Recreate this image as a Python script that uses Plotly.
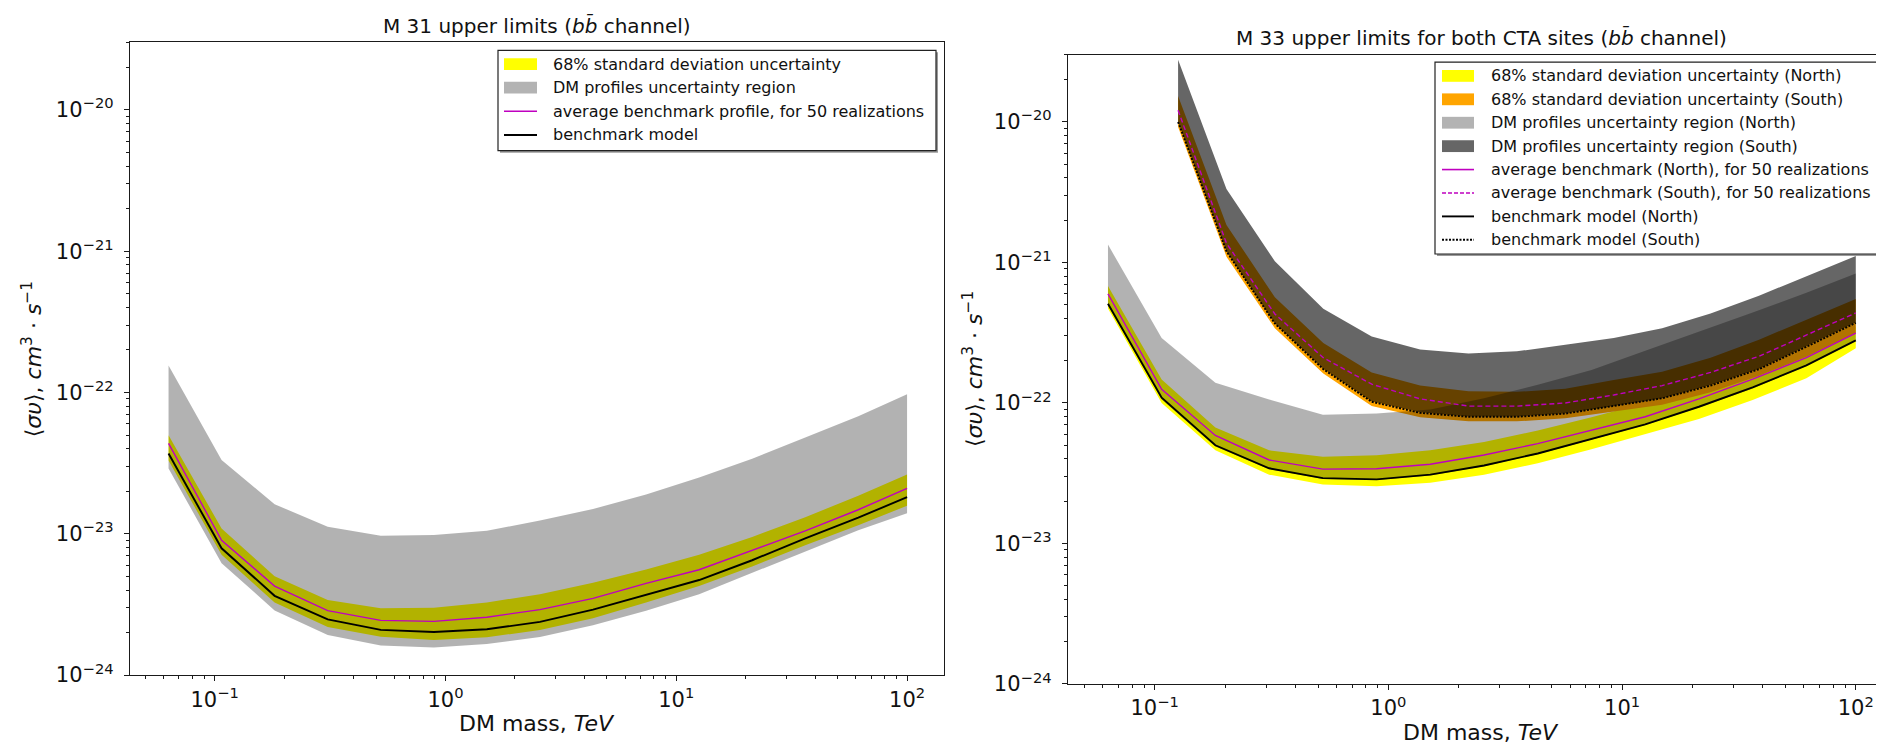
import plotly.graph_objects as go

# ---------------- data ----------------
mass = [0.0631, 0.1071, 0.1818, 0.3088, 0.5243, 0.8902, 1.511, 2.566, 4.357, 7.397,
        12.56, 21.32, 36.2, 61.46, 100.0]
mass_south = [0.1259, 0.2028, 0.3267, 0.5265, 0.8484, 1.367, 2.202, 3.548, 5.716, 9.21,
              14.84, 23.91, 38.53, 62.09, 100.0]

# M 31 (left panel)
m31_dm_upper = [1.55e-22, 3.33e-23, 1.62e-23, 1.12e-23, 9.7e-24, 9.8e-24, 1.05e-23, 1.24e-23,
                1.5e-23, 1.9e-23, 2.5e-23, 3.4e-23, 4.8e-23, 6.8e-23, 9.7e-23]
m31_dm_lower = [2.9e-23, 6.2e-24, 2.87e-24, 1.92e-24, 1.62e-24, 1.57e-24, 1.66e-24, 1.86e-24,
                2.25e-24, 2.86e-24, 3.74e-24, 5.28e-24, 7.5e-24, 1.06e-23, 1.4e-23]
m31_std_upper = [4.98e-23, 1.09e-23, 5.0e-24, 3.4e-24, 2.97e-24, 3.0e-24, 3.27e-24, 3.74e-24,
                 4.5e-24, 5.58e-24, 7.1e-24, 9.5e-24, 1.31e-23, 1.86e-23, 2.63e-23]
m31_std_lower = [3.3e-23, 7.1e-24, 3.27e-24, 2.19e-24, 1.87e-24, 1.77e-24, 1.85e-24, 2.09e-24,
                 2.53e-24, 3.27e-24, 4.27e-24, 5.88e-24, 8.3e-24, 1.15e-23, 1.58e-23]
m31_average = [4.37e-23, 9.0e-24, 4.27e-24, 2.86e-24, 2.44e-24, 2.4e-24, 2.57e-24, 2.91e-24,
               3.49e-24, 4.46e-24, 5.57e-24, 7.6e-24, 1.05e-23, 1.48e-23, 2.1e-23]
m31_benchmark = [3.7e-23, 7.9e-24, 3.64e-24, 2.48e-24, 2.09e-24, 2.02e-24, 2.11e-24, 2.38e-24,
                 2.91e-24, 3.68e-24, 4.71e-24, 6.5e-24, 9.3e-24, 1.3e-23, 1.82e-23]

# M 33 North (right panel)
north_dm_upper = [1.34e-21, 2.9e-22, 1.39e-22, 1.06e-22, 8.24e-23, 8.4e-23, 9.0e-23, 1.08e-22,
                  1.35e-22, 1.72e-22, 2.35e-22, 3.2e-22, 4.4e-22, 6.1e-22, 8.34e-22]
north_dm_lower = [4.95e-22, 1.06e-22, 4.9e-23, 3.38e-23, 2.88e-23, 2.83e-23, 3.05e-23, 3.55e-23,
                  4.32e-23, 5.5e-23, 6.97e-23, 9.3e-23, 1.27e-22, 1.83e-22, 2.76e-22]
north_std_upper = [6.8e-22, 1.47e-22, 6.7e-23, 4.6e-23, 4.14e-23, 4.25e-23, 4.6e-23, 5.27e-23,
                   6.37e-23, 7.9e-23, 1.0e-22, 1.31e-22, 1.76e-22, 2.5e-22, 3.5e-22]
north_std_lower = [4.7e-22, 1.0e-22, 4.6e-23, 3.09e-23, 2.63e-23, 2.55e-23, 2.7e-23, 3.09e-23,
                   3.72e-23, 4.69e-23, 6.0e-23, 7.7e-23, 1.05e-22, 1.5e-22, 2.45e-22]
north_average = [5.97e-22, 1.25e-22, 5.87e-23, 3.93e-23, 3.38e-23, 3.4e-23, 3.66e-23, 4.26e-23,
                 5.14e-23, 6.37e-23, 7.98e-23, 1.07e-22, 1.48e-22, 2.1e-22, 3.14e-22]
north_benchmark = [5.08e-22, 1.09e-22, 5.0e-23, 3.43e-23, 2.92e-23, 2.86e-23, 3.09e-23, 3.59e-23,
                   4.37e-23, 5.57e-23, 7.05e-23, 9.4e-23, 1.29e-22, 1.85e-22, 2.79e-22]

# M 33 South (right panel)
south_dm_upper = [2.77e-20, 3.33e-21, 1.02e-21, 4.69e-22, 2.97e-22, 2.4e-22, 2.25e-22, 2.33e-22,
                  2.6e-22, 2.9e-22, 3.4e-22, 4.33e-22, 5.8e-22, 8.0e-22, 1.11e-21]
south_dm_lower = [1.0e-20, 1.2e-21, 3.7e-22, 1.75e-22, 1.03e-22, 8.6e-23, 8.0e-23, 8.0e-23,
                  8.45e-23, 9.5e-23, 1.08e-22, 1.34e-22, 1.75e-22, 2.55e-22, 3.75e-22]
south_std_upper = [1.53e-20, 1.85e-21, 5.66e-22, 2.67e-22, 1.65e-22, 1.33e-22, 1.21e-22, 1.2e-22,
                   1.26e-22, 1.46e-22, 1.67e-22, 2.1e-22, 2.82e-22, 3.93e-22, 5.5e-22]
south_std_lower = [9.2e-21, 1.1e-21, 3.4e-22, 1.62e-22, 9.5e-23, 7.9e-23, 7.4e-23, 7.4e-23,
                   7.8e-23, 8.75e-23, 9.7e-23, 1.19e-22, 1.56e-22, 2.15e-22, 3.14e-22]
south_average = [1.21e-20, 1.37e-21, 4.3e-22, 2.1e-22, 1.36e-22, 1.07e-22, 9.5e-23, 9.5e-23,
                 1.0e-22, 1.14e-22, 1.33e-22, 1.65e-22, 2.15e-22, 3.05e-22, 4.37e-22]
south_benchmark = [1.0e-20, 1.2e-21, 3.68e-22, 1.74e-22, 1.02e-22, 8.5e-23, 7.97e-23, 7.97e-23,
                   8.4e-23, 9.5e-23, 1.08e-22, 1.33e-22, 1.74e-22, 2.53e-22, 3.72e-22]

x_tick_vals = [0.1, 1, 10, 100]
x_tick_text = ["10<sup>−1</sup>", "10<sup>0</sup>", "10<sup>1</sup>", "10<sup>2</sup>"]
y_tick_vals = [1e-24, 1e-23, 1e-22, 1e-21, 1e-20]
y_tick_text = ["10<sup>−24</sup>", "10<sup>−23</sup>", "10<sup>−22</sup>", "10<sup>−21</sup>",
               "10<sup>−20</sup>"]

title_left = "M 31 upper limits (<i>bb̄</i> channel)"
title_right = "M 33 upper limits for both CTA sites (<i>bb̄</i> channel)"
x_label = "DM mass, <i>TeV</i>"
y_label = "⟨<i>συ</i>⟩, <i>cm</i><sup>3</sup> · <i>s</i><sup>−1</sup>"

legend_left = ["68% standard deviation uncertainty", "DM profiles uncertainty region",
               "average benchmark profile, for 50 realizations", "benchmark model"]
legend_right = ["68% standard deviation uncertainty (North)",
                "68% standard deviation uncertainty (South)",
                "DM profiles uncertainty region (North)",
                "DM profiles uncertainty region (South)",
                "average benchmark (North), for 50 realizations",
                "average benchmark (South), for 50 realizations",
                "benchmark model (North)",
                "benchmark model (South)"]

# ---------------- styling ----------------
FONT = "DejaVu Sans"
W, H = 1884, 748
YELLOW = "rgb(255,255,0)"
ORANGE = "rgb(255,165,0)"
GRAY_N = "rgba(0,0,0,0.3)"
GRAY_S = "rgba(0,0,0,0.6)"
MAGENTA = "rgb(191,0,191)"
BLACK = "rgb(0,0,0)"


def xp(px):
    return px / W


def yp(py):
    return 1 - py / H


def band(x, upper, lower, color, xa, ya):
    return go.Scatter(x=list(x) + list(x)[::-1], y=list(upper) + list(lower)[::-1],
                      fill="toself", fillcolor=color, mode="lines",
                      line=dict(width=0, color="rgba(0,0,0,0)"),
                      xaxis=xa, yaxis=ya, showlegend=False, hoverinfo="skip")


def curve(x, y, color, width, dash, xa, ya):
    return go.Scatter(x=x, y=y, mode="lines", line=dict(color=color, width=width, dash=dash),
                      xaxis=xa, yaxis=ya, showlegend=False, hoverinfo="skip")


fig = go.Figure()
# left panel
fig.add_trace(band(mass, m31_std_upper, m31_std_lower, YELLOW, "x", "y"))
fig.add_trace(band(mass, m31_dm_upper, m31_dm_lower, GRAY_N, "x", "y"))
fig.add_trace(curve(mass, m31_average, MAGENTA, 1.4, "solid", "x", "y"))
fig.add_trace(curve(mass, m31_benchmark, BLACK, 1.9, "solid", "x", "y"))
# right panel
fig.add_trace(band(mass, north_std_upper, north_std_lower, YELLOW, "x2", "y2"))
fig.add_trace(band(mass_south, south_std_upper, south_std_lower, ORANGE, "x2", "y2"))
fig.add_trace(band(mass, north_dm_upper, north_dm_lower, GRAY_N, "x2", "y2"))
fig.add_trace(band(mass_south, south_dm_upper, south_dm_lower, GRAY_S, "x2", "y2"))
fig.add_trace(curve(mass, north_average, MAGENTA, 1.4, "solid", "x2", "y2"))
fig.add_trace(curve(mass_south, south_average, MAGENTA, 1.4, "5px,3px", "x2", "y2"))
fig.add_trace(curve(mass, north_benchmark, BLACK, 1.9, "solid", "x2", "y2"))
fig.add_trace(curve(mass_south, south_benchmark, BLACK, 1.9, "2px,1.5px", "x2", "y2"))

x_minor = [d * 10 ** e for e in range(-2, 3) for d in range(2, 10)
           if 0.043 < d * 10 ** e < 145]
y_minor = [d * 10.0 ** e for e in range(-24, -19) for d in range(2, 10)
           if d * 10.0 ** e <= 3.01e-20]

LINE_C = "#1a1a1a"


def xaxis_cfg(domain, rng, anchor):
    return dict(type="log", domain=domain, range=rng, anchor=anchor,
                showline=True, mirror=True, linecolor=LINE_C, linewidth=1.4,
                ticks="outside", ticklen=5, tickwidth=1.2, tickcolor=LINE_C,
                tickvals=x_tick_vals, ticktext=x_tick_text,
                tickfont=dict(family=FONT, size=21, color="#111"),
                minor=dict(tickvals=x_minor, ticks="outside", ticklen=3, tickwidth=1,
                           tickcolor=LINE_C, showgrid=False),
                showgrid=False, zeroline=False, fixedrange=True)


def yaxis_cfg(domain, anchor, mirror):
    return dict(type="log", domain=domain, range=[-24, -19.5229], anchor=anchor,
                showline=True, mirror=mirror, linecolor=LINE_C, linewidth=1.4,
                ticks="outside", ticklen=5, tickwidth=1.2, tickcolor=LINE_C,
                tickvals=y_tick_vals, ticktext=y_tick_text, ticklabelstandoff=6,
                tickfont=dict(family=FONT, size=21, color="#111"),
                minor=dict(tickvals=y_minor, ticks="outside", ticklen=3, tickwidth=1,
                           tickcolor=LINE_C, showgrid=False),
                showgrid=False, zeroline=False, fixedrange=True)


fig.update_layout(
    width=W, height=H, margin=dict(l=0, r=0, t=0, b=0),
    paper_bgcolor="white", plot_bgcolor="white", showlegend=False,
    font=dict(family=FONT, color="#111"),
    xaxis=xaxis_cfg([xp(122), xp(936)], [-1.367, 2.16], "y"),
    yaxis=yaxis_cfg([yp(678), yp(35)], "x", True),
    xaxis2=xaxis_cfg([xp(1060), 1.0], [-1.371, 2.155], "y2"),
    yaxis2=yaxis_cfg([yp(687), yp(47.7)], "x2", False),
)

annotations = []
shapes = []


def text(x, y, s, size, xanchor="center", angle=0):
    annotations.append(dict(x=xp(x), y=yp(y), xref="paper", yref="paper", text=s,
                            showarrow=False, xanchor=xanchor, yanchor="middle",
                            textangle=angle, font=dict(family=FONT, size=size, color="#111")))


text(529, 18, title_left, 20)
text(1473, 30, title_right, 20)
text(529, 727, x_label, 22)
text(1473, 736, x_label, 22)
text(24, 357, y_label, 22, angle=-90)
text(965, 367, y_label, 22, angle=-90)


def legend_box(x0, y0, x1, y1):
    shapes.append(dict(type="rect", xref="paper", yref="paper", x0=xp(x0 + 2), x1=xp(x1 + 2),
                       y0=yp(y1 + 2), y1=yp(y0 + 2), fillcolor="#9a9a9a",
                       line=dict(width=0), layer="above"))
    shapes.append(dict(type="rect", xref="paper", yref="paper", x0=xp(x0), x1=xp(x1),
                       y0=yp(y1), y1=yp(y0), fillcolor="white",
                       line=dict(color="#222", width=1.2), layer="above"))


def legend_patch(x0, x1, yc, color):
    shapes.append(dict(type="rect", xref="paper", yref="paper", x0=xp(x0), x1=xp(x1),
                       y0=yp(yc + 6), y1=yp(yc - 6), fillcolor=color,
                       line=dict(width=0), layer="above"))


def legend_line(x0, x1, yc, color, width, dash):
    shapes.append(dict(type="line", xref="paper", yref="paper", x0=xp(x0), x1=xp(x1),
                       y0=yp(yc), y1=yp(yc), line=dict(color=color, width=width, dash=dash),
                       layer="above"))


# left legend
legend_box(490, 43, 928, 145)
ly = [57, 81, 105, 129]
legend_patch(496, 529, ly[0], YELLOW)
legend_patch(496, 529, ly[1], "rgb(179,179,179)")
legend_line(496, 529, ly[2], MAGENTA, 1.6, "solid")
legend_line(496, 529, ly[3], BLACK, 1.9, "solid")
for yy, s in zip(ly, legend_left):
    text(543, yy, s, 16, xanchor="left")

# right legend
legend_box(1427, 55, 1878, 250)
ry = [69 + 23.8 * i for i in range(8)]
legend_patch(1434, 1466, ry[0], YELLOW)
legend_patch(1434, 1466, ry[1], ORANGE)
legend_patch(1434, 1466, ry[2], "rgb(179,179,179)")
legend_patch(1434, 1466, ry[3], "rgb(102,102,102)")
legend_line(1434, 1466, ry[4], MAGENTA, 1.6, "solid")
legend_line(1434, 1466, ry[5], MAGENTA, 1.6, "4px,2px")
legend_line(1434, 1466, ry[6], BLACK, 1.9, "solid")
legend_line(1434, 1466, ry[7], BLACK, 1.9, "2px,1.5px")
for yy, s in zip(ry, legend_right):
    text(1481, yy, s, 16, xanchor="left")

fig.update_layout(annotations=annotations, shapes=shapes)
fig.write_html("out.html")
